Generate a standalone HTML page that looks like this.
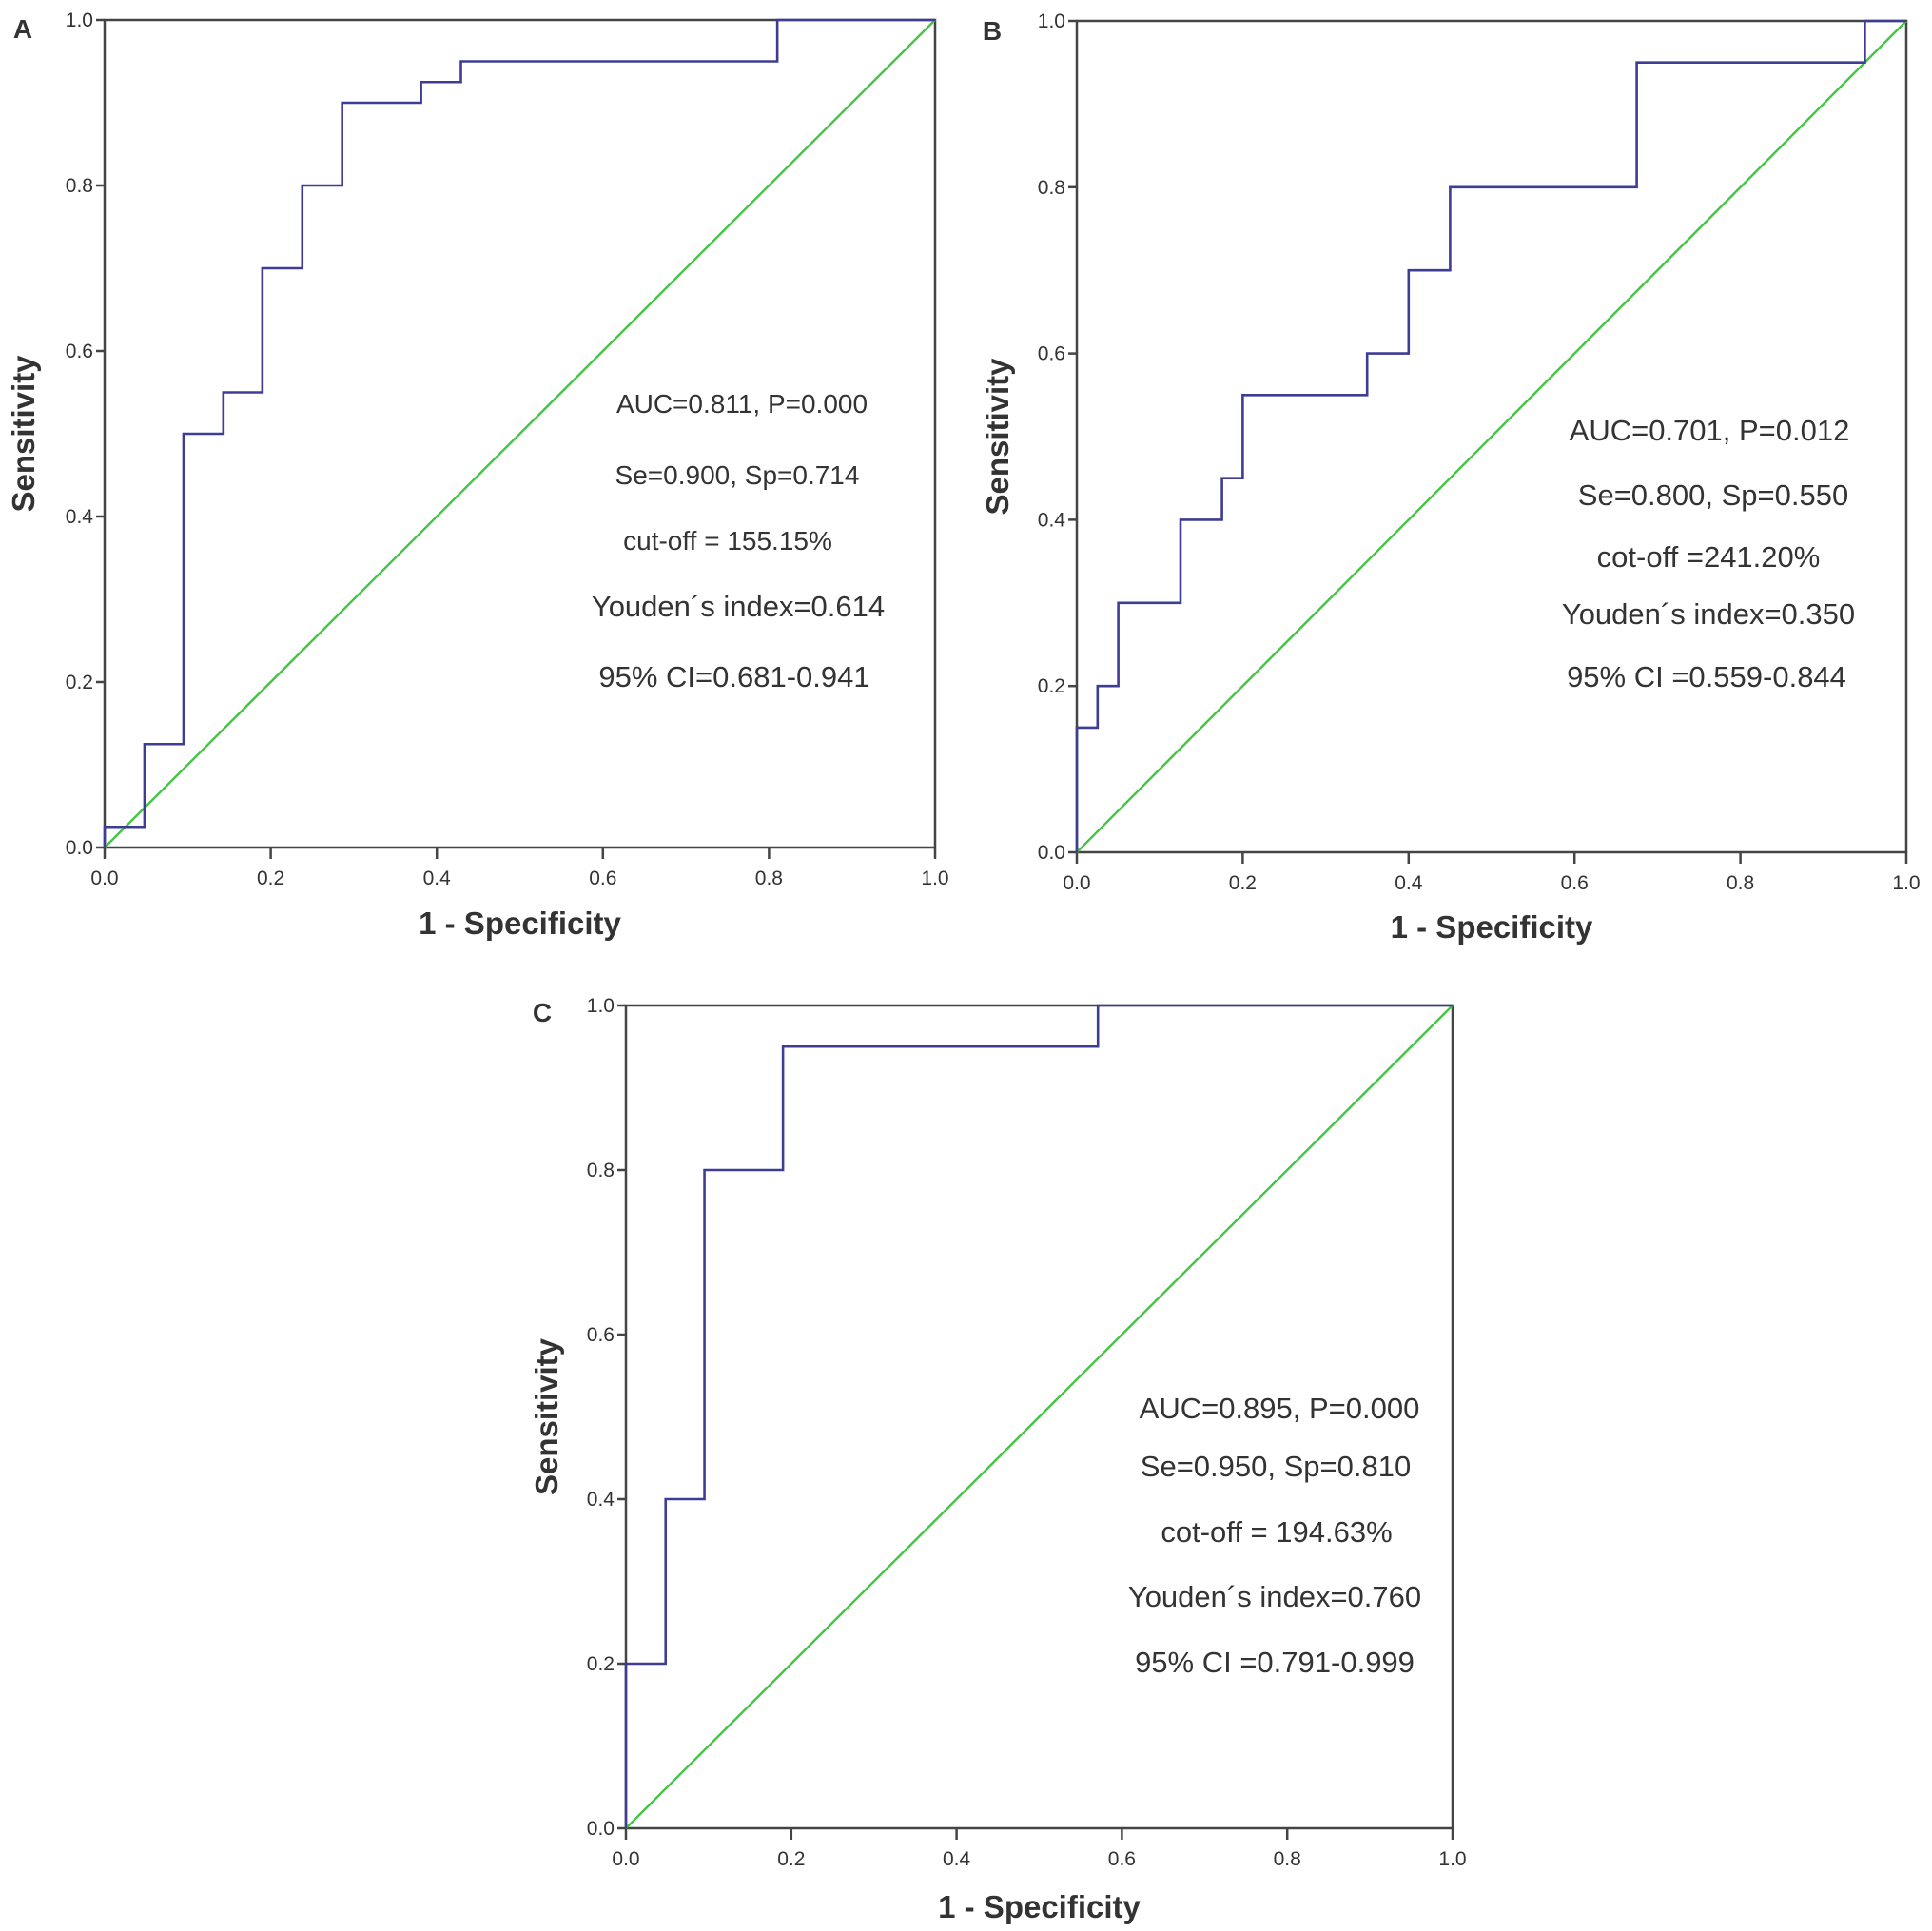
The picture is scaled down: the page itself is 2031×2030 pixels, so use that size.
<!DOCTYPE html>
<html><head><meta charset="utf-8"><style>
html,body{margin:0;padding:0;background:#fff}
svg{display:block}
text{font-family:"Liberation Sans",sans-serif;fill:#333}
</style></head><body>
<svg id="fig" width="2031" height="2030" viewBox="0 0 2031 2030" xmlns="http://www.w3.org/2000/svg"></svg>
<script>
const fprA=[0,0.048,0.095,0.143,0.19,0.238,0.286,0.381,0.429,0.81,1];
const tprA=[0.025,0.125,0.5,0.55,0.7,0.8,0.9,0.925,0.95,1,1];
const fprB=[0,0.025,0.05,0.125,0.175,0.2,0.35,0.4,0.45,0.675,0.95,1];
const tprB=[0.15,0.2,0.3,0.4,0.45,0.55,0.6,0.7,0.8,0.95,1,1];
const fprC=[0,0.048,0.095,0.19,0.571,1];
const tprC=[0.2,0.4,0.8,0.95,1,1];
const tickLabels=["0.0","0.2","0.4","0.6","0.8","1.0"];
const tickValues=[0,0.2,0.4,0.6,0.8,1];
const notesA=["AUC=0.811, P=0.000","Se=0.900, Sp=0.714","cut-off = 155.15%","Youden´s index=0.614","95% CI=0.681-0.941"];
const notesB=["AUC=0.701, P=0.012","Se=0.800, Sp=0.550","cot-off =241.20%","Youden´s index=0.350","95% CI =0.559-0.844"];
const notesC=["AUC=0.895, P=0.000","Se=0.950, Sp=0.810","cot-off = 194.63%","Youden´s index=0.760","95% CI =0.791-0.999"];

const NS="http://www.w3.org/2000/svg";
const svg=document.getElementById('fig');
function mk(tag,attrs,parent){const e=document.createElementNS(NS,tag);for(const k in attrs)e.setAttribute(k,attrs[k]);(parent||svg).appendChild(e);return e;}

const panels=[
 {id:'a',letter:'A',fpr:fprA,tpr:tprA,notes:notesA,x0:110,x1:983,y0:21,y1:891,fs:[28,28,28,31,31],
  noteX:[780,775,765,776,772],noteY:[434,509,578,648,722],lx:24,ly:40,ytx:24,xty:982},
 {id:'b',letter:'B',fpr:fprB,tpr:tprB,notes:notesB,x0:1132,x1:2004,y0:22,y1:896,fs:[31,31,31,31,31],
  noteX:[1797,1801,1796,1796,1794],noteY:[463,531,596,656,722],lx:1043,ly:42,ytx:1048,xty:986},
 {id:'c',letter:'C',fpr:fprC,tpr:tprC,notes:notesC,x0:658,x1:1527,y0:1057,y1:1922,fs:[31,31,31,31,31],
  noteX:[1345,1341,1342,1340,1340],noteY:[1491,1552,1621,1689,1758],lx:570,ly:1074,ytx:574,xty:2016}
];

panels.forEach(p=>{
  const g=mk('g',{});
  
  
  const sx=v=>p.x0+v*(p.x1-p.x0);
  const sy=v=>p.y1-v*(p.y1-p.y0);
  const fr=mk('rect',{x:p.x0,y:p.y0,width:p.x1-p.x0,height:p.y1-p.y0,fill:'none',stroke:'#444','stroke-width':2.5},g);
  
  
  tickValues.forEach((v,i)=>{
    const yt=mk('line',{x1:p.x0-9,x2:p.x0,y1:sy(v),y2:sy(v),stroke:'#444','stroke-width':2.5},g);
    
    
    const yl=mk('text',{x:p.x0-12,y:sy(v)+7,'text-anchor':'end','font-size':21},g);
    yl.textContent=tickLabels[i];
    
    
    const xt=mk('line',{x1:sx(v),x2:sx(v),y1:p.y1,y2:p.y1+12,stroke:'#444','stroke-width':2.5},g);
    
    
    const xl=mk('text',{x:sx(v),y:p.y1+39,'text-anchor':'middle','font-size':21},g);
    xl.textContent=tickLabels[i];
    
    
  });
  const dg=mk('line',{x1:sx(0),y1:sy(0),x2:sx(1),y2:sy(1),stroke:'#44c444','stroke-width':2.4},g);
  
  
  let d='M'+sx(0)+' '+sy(0);let prev=0;
  p.fpr.forEach((f,i)=>{d+=' L'+sx(f)+' '+sy(prev)+' L'+sx(f)+' '+sy(p.tpr[i]);prev=p.tpr[i];});
  const rc=mk('path',{d:d,fill:'none',stroke:'#3d3d96','stroke-width':2.6},g);
  
  
  p.notes.forEach((t,i)=>{
    const n=mk('text',{x:p.noteX[i],y:p.noteY[i],'text-anchor':'middle','font-size':p.fs[i]},g);
    n.textContent=t;
    
    
  });
  const xtt=mk('text',{x:(p.x0+p.x1)/2,y:p.xty,'text-anchor':'middle','font-size':33,'font-weight':'bold'},g);
  xtt.textContent='1 - Specificity';
  
  
  const cy=(p.y0+p.y1)/2;
  const ytt=mk('text',{x:p.ytx+12,y:cy,'text-anchor':'middle','font-size':33,'font-weight':'bold',transform:'rotate(-90 '+(p.ytx+12)+' '+cy+')'},g);
  ytt.textContent='Sensitivity';
  
  
  const lt=mk('text',{x:p.lx,y:p.ly,'text-anchor':'middle','font-size':28,'font-weight':'bold'},g);
  lt.textContent=p.letter;
  
  
});
</script>
</body></html>
